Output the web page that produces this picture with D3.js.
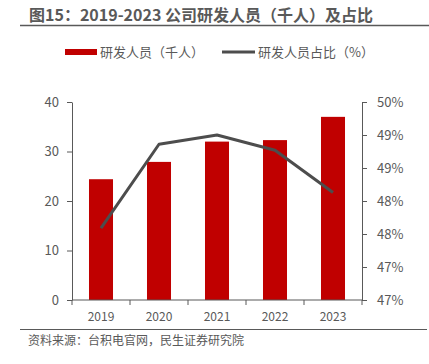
<!DOCTYPE html>
<html><head><meta charset="utf-8">
<script src="https://cdn.jsdelivr.net/npm/d3@7/dist/d3.min.js"></script>
<style>
body{margin:0;background:#fff;}
text{font-family:"Microsoft YaHei","Noto Sans CJK SC","Noto Sans",sans-serif;}
</style></head>
<body><svg id="c" width="429" height="364"></svg>
<script>
const years = ["2019","2020","2021","2022","2023"];
const staff = [24.4, 27.9, 32.0, 32.3, 37.0];
const ratio = [48.09, 49.36, 49.50, 49.27, 48.63];
const leftTicks = [0,10,20,30,40];
const rightTicks = [47,47.5,48,48.5,49,49.5,50];
const rightTickLabels = ["47%","47%","48%","48%","49%","49%","50%"];

const svg = d3.select("#c");
const gray = "#595959";
const L = 72, R = 362, T = 102, B = 300;

svg.append("text").attr("x",29).attr("y",21).attr("font-size",16).attr("font-weight","bold")
  .attr("fill","#595959").text("图15：2019-2023 公司研发人员（千人）及占比");
svg.append("line").attr("x1",20).attr("x2",429).attr("y1",25.5).attr("y2",25.5).attr("stroke","#595959").attr("stroke-width",1.6);

// legend
svg.append("rect").attr("x",65).attr("y",49).attr("width",32).attr("height",6).attr("fill","#C00000");
svg.append("text").attr("x",100).attr("y",57).attr("font-size",13).attr("fill",gray).text("研发人员（千人）");
svg.append("line").attr("x1",222).attr("x2",255).attr("y1",52).attr("y2",52).attr("stroke","#4D4D4D").attr("stroke-width",3);
svg.append("text").attr("x",258).attr("y",57).attr("font-size",13).attr("fill",gray).text("研发人员占比（%）");

const x = d3.scaleBand().domain(years).range([L,R]).paddingInner(0.586).paddingOuter(0.293);
const yL = d3.scaleLinear().domain([0,40]).range([B,T]);
const yR = d3.scaleLinear().domain([47,50]).range([B,T]);

svg.append("g").selectAll("rect").data(staff).join("rect")
  .attr("x",(d,i)=>x(years[i])).attr("width",x.bandwidth())
  .attr("y",d=>yL(d)).attr("height",d=>yL(0)-yL(d)).attr("fill","#C00000");

// left axis
const gl = svg.append("g").attr("transform",`translate(${L},0)`)
  .call(d3.axisLeft(yL).tickValues(leftTicks).tickSize(5).tickPadding(8).tickSizeOuter(0));
gl.selectAll("text").attr("font-size",13).attr("fill",gray);
gl.selectAll("line,path").attr("stroke",gray);

// right axis
const gr = svg.append("g").attr("transform",`translate(${R},0)`)
  .call(d3.axisRight(yR).tickValues(rightTicks).tickFormat((d,i)=>rightTickLabels[i]).tickSize(5).tickPadding(10).tickSizeOuter(0));
gr.selectAll("text").attr("font-size",13).attr("fill",gray);
gr.selectAll("line,path").attr("stroke",gray);

// bottom axis
const xb = d3.scaleLinear().domain([0,5]).range([L,R]);
const gb = svg.append("g").attr("transform",`translate(0,${B})`);
gb.append("line").attr("x1",L).attr("x2",R).attr("stroke",gray);
gb.selectAll("line.t").data(d3.range(6)).join("line").attr("class","t")
  .attr("x1",d=>xb(d)).attr("x2",d=>xb(d)).attr("y1",0).attr("y2",5).attr("stroke",gray);
gb.selectAll("text").data(years).join("text")
  .attr("x",d=>x(d)+x.bandwidth()/2).attr("y",21).attr("text-anchor","middle")
  .attr("font-size",12).attr("fill",gray).text(d=>d);

// line
const line = d3.line().x((d,i)=>x(years[i])+x.bandwidth()/2).y(d=>yR(d));
svg.append("path").datum(ratio).attr("d",line).attr("fill","none")
  .attr("stroke","#4D4D4D").attr("stroke-width",3).attr("stroke-linejoin","round");

svg.append("line").attr("x1",20).attr("x2",427).attr("y1",329.5).attr("y2",329.5).attr("stroke","#595959").attr("stroke-width",1);
svg.append("text").attr("x",28).attr("y",345).attr("font-size",12).attr("fill",gray).text("资料来源：台积电官网，民生证券研究院");
</script></body></html>
